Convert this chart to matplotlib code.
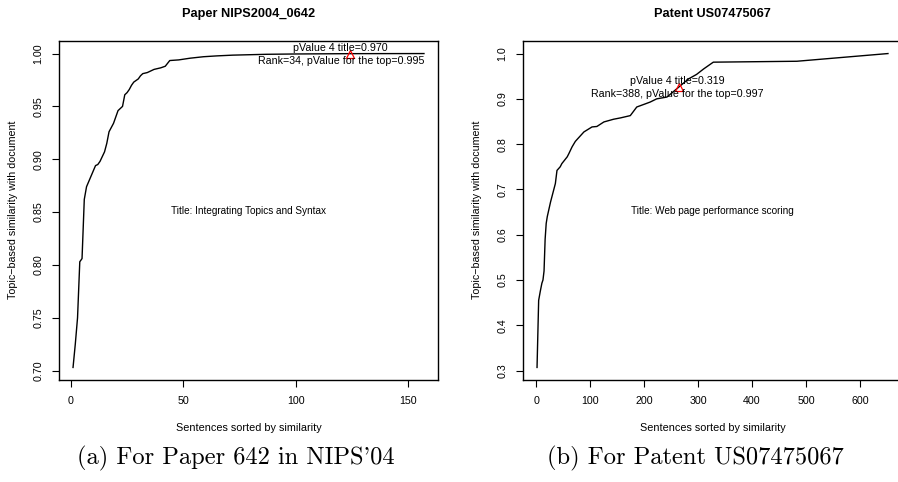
import numpy as np
import matplotlib
matplotlib.use("Agg")
import matplotlib.pyplot as plt
from matplotlib.ticker import FormatStrFormatter

plt.rcParams['font.family'] = ['Liberation Sans', 'DejaVu Sans']

# panel (a): paper NIPS2004_0642
rank_a = [1, 2, 3, 4, 5, 6, 7, 8, 9, 10, 11, 12, 13, 15, 16, 17, 18, 19, 21, 22, 23,
          24, 25, 26, 27, 28, 30, 31, 32, 34, 35, 37, 40, 42, 44, 48, 53, 59, 65, 72,
          87, 100, 124, 157]
sim_a = [0.703, 0.725, 0.750, 0.803, 0.806, 0.862, 0.874, 0.879, 0.884, 0.889, 0.894,
         0.895, 0.898, 0.907, 0.915, 0.926, 0.930, 0.934, 0.946, 0.948, 0.950, 0.961,
         0.963, 0.966, 0.970, 0.973, 0.976, 0.979, 0.981, 0.982, 0.983, 0.985, 0.9865,
         0.988, 0.9934, 0.994, 0.9956, 0.997, 0.9978, 0.9985, 0.9993, 0.9996, 0.9999, 1.0]
mark_a = (124, 0.9999)
top_a = "pValue 4 title=0.970"
rank_txt_a = "Rank=34, pValue for the top=0.995"
doc_a = "Title: Integrating Topics and Syntax"
head_a = "Paper NIPS2004_0642"
cap_a = "(a) For Paper 642 in NIPS'04"

# panel (b): patent US07475067
rank_b = [1, 4, 7, 10, 12, 14, 16, 18, 20, 26, 35, 38, 44, 47, 57, 60, 66, 72, 75, 88,
          103, 112, 125, 143, 156, 174, 186, 202, 211, 223, 242, 265, 282, 297, 310,
          328, 483, 652]
sim_b = [0.307, 0.455, 0.475, 0.493, 0.500, 0.520, 0.590, 0.625, 0.640, 0.672, 0.713,
         0.742, 0.750, 0.757, 0.772, 0.779, 0.794, 0.806, 0.810, 0.827, 0.838, 0.839,
         0.849, 0.855, 0.858, 0.863, 0.882, 0.889, 0.893, 0.900, 0.904, 0.927, 0.944,
         0.954, 0.966, 0.981, 0.983, 1.0]
mark_b = (265, 0.927)
top_b = "pValue 4 title=0.319"
rank_txt_b = "Rank=388, pValue for the top=0.997"
doc_b = "Title: Web page performance scoring"
head_b = "Patent US07475067"
cap_b = "(b) For Patent US07475067"

W, H = 898, 482
fig = plt.figure(figsize=(W / 100, H / 100), dpi=100)


def px(x, y):
    return x / W, 1 - y / H


def panel(left, rank, sim, mark, t1, t2, doc, head, cap, yfmt, xt, yt, off, cap_x):
    ax = fig.add_axes([left / W, (H - 380) / H, 379 / W, 339 / H])
    ax.plot(rank, sim, color='black', lw=1.0)
    ax.plot([mark[0]], [mark[1]], marker='^', ms=5.5, mfc='none', mec='red', mew=0.9)
    xr = max(rank) - min(rank)
    yr = max(sim) - min(sim)
    ax.set_xlim(min(rank) - 0.04 * xr, max(rank) + 0.04 * xr)
    ax.set_ylim(min(sim) - 0.04 * yr, max(sim) + 0.04 * yr)
    ax.set_xticks(xt)
    ax.set_yticks(yt)
    ax.yaxis.set_major_formatter(FormatStrFormatter(yfmt))
    ax.tick_params(direction='out', length=4.8, width=0.8, labelsize=7.7, pad=6.5)
    for lab in ax.get_yticklabels():
        lab.set_rotation(90)
        lab.set_va('center')
    for s in ax.spines.values():
        s.set_linewidth(1.0)
    ax.text(mark[0] - off, mark[1] + 0.0055 * yr / 0.297, t1, ha='center', va='center', fontsize=7.7)
    ax.text(mark[0] - off, mark[1] - 0.0072 * yr / 0.297, t2, ha='center', va='center', fontsize=7.7)
    ax.text((min(rank) + max(rank)) / 2, (min(sim) + max(sim)) / 2, doc,
            ha='center', va='center', fontsize=7.2)
    cx = left + 379 / 2
    fig.text(*px(cx, 14), head, ha='center', va='center', fontsize=9.2, fontweight='bold')
    fig.text(*px(cx, 428), "Sentences sorted by similarity", ha='center', va='center', fontsize=7.8)
    fig.text(*px(left - 46, 210), "Topic\u2212based similarity with document", ha='center',
             va='center', rotation=90, fontsize=7.7)
    fig.text(*px(cap_x, 458), cap, ha='center', va='center', fontsize=17.6, fontfamily='cmr10')
    return ax


panel(59, rank_a, sim_a, mark_a, top_a, rank_txt_a, doc_a, head_a, cap_a, '%.2f',
      [0, 50, 100, 150], [0.70, 0.75, 0.80, 0.85, 0.90, 0.95, 1.00], 4, 236)
panel(523, rank_b, sim_b, mark_b, top_b, rank_txt_b, doc_b, head_b, cap_b, '%.1f',
      [0, 100, 200, 300, 400, 500, 600], [0.3, 0.4, 0.5, 0.6, 0.7, 0.8, 0.9, 1.0], 4, 695)

fig.savefig("out.png", dpi=100)
